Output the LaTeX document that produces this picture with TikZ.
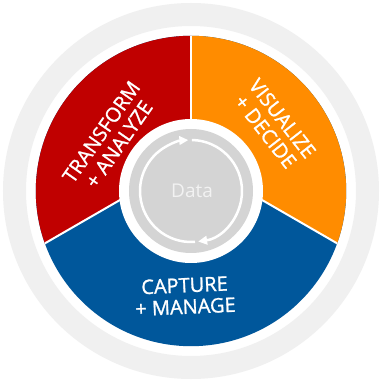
\documentclass[tikz,border=0pt]{standalone}
\usepackage{fontspec}
\setmainfont{Open Sans}
\newfontfamily\segfont[FakeBold=1.2]{Open Sans}
\usetikzlibrary{arrows.meta}
\definecolor{cred}{HTML}{C00000}
\definecolor{corange}{HTML}{FF8C00}
\definecolor{cblue}{HTML}{00579B}
\definecolor{ringgray}{HTML}{F0F0F0}
\definecolor{coregray}{HTML}{D4D4D4}
\definecolor{datatext}{HTML}{F2F2F2}
\begin{document}
\begin{tikzpicture}[x=1pt,y=1pt,
  seglabel/.style={text=white, font=\segfont\fontsize{20}{21.5}\selectfont, align=center, inner sep=0pt},
  sepline/.style={draw=white, line width=2pt},
  cyc/.style={draw=white, line width=2.5pt, -{Triangle[length=9pt,width=8.5pt]}}]
\useasboundingbox (-191,-191) rectangle (191,191);
\fill[white] (-191,-191) rectangle (191,191);
% outer light ring
\fill[ringgray, even odd rule] (0,0) circle (188) (0,0) circle (165);
\coordinate (P) at (0,32);
\begin{scope}
  \clip (0,0) circle (155.2);
  \fill[cblue] (-200,-200) rectangle (200,200);
  \fill[cred] (P) -- ++(210:260) -- (-230,240) -- (0,240) -- cycle;
  \fill[corange] (P) -- ++(330:260) -- (230,240) -- (0,240) -- cycle;
  \draw[sepline] (P) -- ++(210:260);
  \draw[sepline] (P) -- ++(330:260);
  \draw[sepline] (0,0) -- (0,240);
\end{scope}
% inner white ring and core
\fill[white] (0,0) circle (72);
\fill[coregray] (0,0) circle (62);
% cycle arrows
\draw[cyc] (-85.5:51) arc[start angle=-85.5, end angle=-267, radius=51];
\draw[cyc] (89:51) arc[start angle=89, end angle=-82, radius=51];
\node[text=datatext, font=\fontsize{19}{23}\selectfont, inner sep=0pt] (data) at (1,0) {Data};
% segment labels
\node[seglabel, rotate=55] (transform) at (-81,53) {TRANSFORM\\+ ANALYZE};
\node[seglabel, rotate=-52] (visualize) at (83,66) {VISUALIZE\\+ DECIDE};
\node[seglabel, rotate=2.5] (capture) at (-6,-105) {CAPTURE\\+ MANAGE};
\end{tikzpicture}
\end{document}
